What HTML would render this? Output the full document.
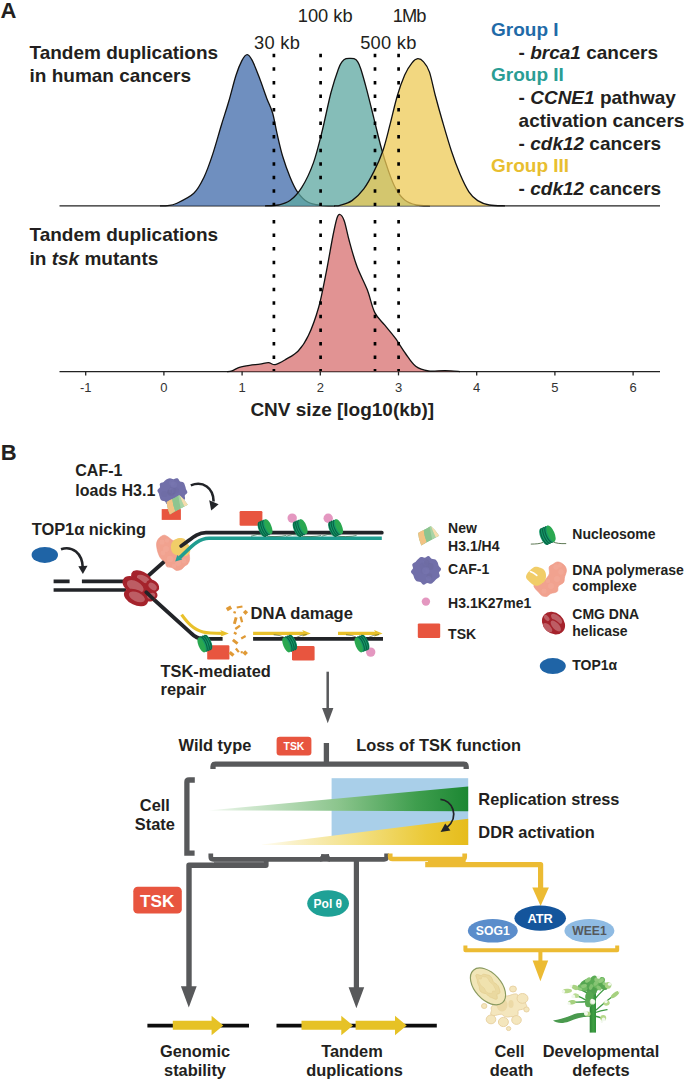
<!DOCTYPE html>
<html><head><meta charset="utf-8"><title>Figure</title>
<style>
html,body{margin:0;padding:0;background:#fff;}
svg{display:block;}
text{font-family:"Liberation Sans",sans-serif;fill:#231f20;}
.b{font-weight:bold;}
.i{font-style:italic;}
</style></head><body>
<svg width="685" height="1080" viewBox="0 0 685 1080">
<rect width="685" height="1080" fill="#fff"/>
<text x="0.5" y="17.6" class="b" font-size="22">A</text>
<g class="b" font-size="19">
<text x="29.5" y="59.4">Tandem duplications</text>
<text x="29.5" y="82.3">in human cancers</text>
<text x="29.5" y="241.2">Tandem duplications</text>
<text x="29.5" y="264.6">in <tspan class="i">tsk</tspan> mutants</text>
<text x="250.4" y="416.3">CNV size [log10(kb)]</text>
<text x="491" y="36" style="fill:#1f6ba8">Group I</text>
<text x="518.6" y="58.6">- <tspan class="i">brca1</tspan> cancers</text>
<text x="491" y="81.3" style="fill:#2a9d94">Group II</text>
<text x="518.6" y="104.3">- <tspan class="i">CCNE1</tspan> pathway</text>
<text x="518.6" y="127">activation cancers</text>
<text x="518.6" y="150">- <tspan class="i">cdk12</tspan> cancers</text>
<text x="491" y="172.3" style="fill:#e8be30">Group III</text>
<text x="518.6" y="195">- <tspan class="i">cdk12</tspan> cancers</text>
</g>
<g font-size="18.3">
<text x="254.1" y="49" textLength="45.7" lengthAdjust="spacing">30 kb</text>
<text x="297.8" y="21.8" textLength="54.8" lengthAdjust="spacing">100 kb</text>
<text x="360.2" y="49" textLength="56.1" lengthAdjust="spacing">500 kb</text>
<text x="392.8" y="21.8" textLength="33.6" lengthAdjust="spacing">1Mb</text>
</g>
<line x1="59.5" y1="205.8" x2="660" y2="205.8" stroke="#222" stroke-width="1.3"/>
<path d="M160.0 205.8C161.2 205.8 164.8 206.0 167.5 205.6C170.2 205.2 171.9 205.6 176.3 203.5C180.7 201.4 189.2 197.7 193.8 193.3C198.4 188.9 200.8 183.8 204.0 177.2C207.2 170.6 209.9 162.7 212.8 153.9C215.7 145.2 218.8 133.5 221.5 124.7C224.2 115.9 226.4 109.6 228.8 101.3C231.2 93.0 233.9 81.8 236.1 75.0C238.3 68.2 240.2 63.8 242.0 60.4C243.8 57.0 245.5 54.6 247.2 54.6C248.9 54.6 250.1 56.5 252.2 60.4C254.2 64.3 257.1 71.7 259.5 78.0C261.9 84.3 264.6 92.6 266.8 98.4C269.0 104.2 270.9 107.2 272.6 113.0C274.3 118.8 275.3 126.1 277.0 133.4C278.7 140.7 280.6 149.5 282.8 156.8C285.0 164.1 287.7 171.4 290.1 177.2C292.5 183.0 294.5 187.7 297.4 191.8C300.3 195.9 303.8 199.8 307.7 202.0C311.6 204.2 316.2 204.7 320.8 205.3C325.4 205.9 332.6 205.7 335.0 205.8Z" fill="#3f6aaa" fill-opacity="0.75" stroke="none"/>
<path d="M160.0 205.8C161.2 205.8 164.8 206.0 167.5 205.6C170.2 205.2 171.9 205.6 176.3 203.5C180.7 201.4 189.2 197.7 193.8 193.3C198.4 188.9 200.8 183.8 204.0 177.2C207.2 170.6 209.9 162.7 212.8 153.9C215.7 145.2 218.8 133.5 221.5 124.7C224.2 115.9 226.4 109.6 228.8 101.3C231.2 93.0 233.9 81.8 236.1 75.0C238.3 68.2 240.2 63.8 242.0 60.4C243.8 57.0 245.5 54.6 247.2 54.6C248.9 54.6 250.1 56.5 252.2 60.4C254.2 64.3 257.1 71.7 259.5 78.0C261.9 84.3 264.6 92.6 266.8 98.4C269.0 104.2 270.9 107.2 272.6 113.0C274.3 118.8 275.3 126.1 277.0 133.4C278.7 140.7 280.6 149.5 282.8 156.8C285.0 164.1 287.7 171.4 290.1 177.2C292.5 183.0 294.5 187.7 297.4 191.8C300.3 195.9 303.8 199.8 307.7 202.0C311.6 204.2 316.2 204.7 320.8 205.3C325.4 205.9 332.6 205.7 335.0 205.8" fill="none" stroke="#111" stroke-width="1.3" stroke-linejoin="round"/>
<path d="M265.0 205.8C267.2 205.7 274.3 205.9 278.5 205.0C282.7 204.1 286.1 203.5 290.0 200.6C293.9 197.7 297.9 193.7 301.8 187.4C305.7 181.1 310.1 172.1 313.5 162.6C316.9 153.1 319.4 142.2 322.3 130.5C325.2 118.8 328.3 102.7 331.0 92.5C333.7 82.3 336.4 74.4 338.3 69.2C340.2 64.0 340.9 63.4 342.2 61.6C343.5 59.9 344.7 59.2 346.0 58.7C347.3 58.2 348.7 58.3 350.0 58.3C351.3 58.3 352.7 58.2 354.0 58.7C355.3 59.2 356.5 59.9 357.6 61.6C358.8 63.4 359.4 64.5 360.9 69.2C362.4 73.9 364.5 81.3 366.7 89.6C368.9 97.9 371.6 109.1 374.0 118.8C376.4 128.5 378.9 139.2 381.3 148.0C383.7 156.8 386.2 164.6 388.6 171.4C391.0 178.2 393.2 184.1 395.9 188.9C398.6 193.7 401.3 197.3 404.7 200.0C408.1 202.7 412.2 204.0 416.4 205.0C420.6 206.0 427.7 205.7 430.0 205.8Z" fill="#5ca7a0" fill-opacity="0.75" stroke="none"/>
<path d="M265.0 205.8C267.2 205.7 274.3 205.9 278.5 205.0C282.7 204.1 286.1 203.5 290.0 200.6C293.9 197.7 297.9 193.7 301.8 187.4C305.7 181.1 310.1 172.1 313.5 162.6C316.9 153.1 319.4 142.2 322.3 130.5C325.2 118.8 328.3 102.7 331.0 92.5C333.7 82.3 336.4 74.4 338.3 69.2C340.2 64.0 340.9 63.4 342.2 61.6C343.5 59.9 344.7 59.2 346.0 58.7C347.3 58.2 348.7 58.3 350.0 58.3C351.3 58.3 352.7 58.2 354.0 58.7C355.3 59.2 356.5 59.9 357.6 61.6C358.8 63.4 359.4 64.5 360.9 69.2C362.4 73.9 364.5 81.3 366.7 89.6C368.9 97.9 371.6 109.1 374.0 118.8C376.4 128.5 378.9 139.2 381.3 148.0C383.7 156.8 386.2 164.6 388.6 171.4C391.0 178.2 393.2 184.1 395.9 188.9C398.6 193.7 401.3 197.3 404.7 200.0C408.1 202.7 412.2 204.0 416.4 205.0C420.6 206.0 427.7 205.7 430.0 205.8" fill="none" stroke="#111" stroke-width="1.3" stroke-linejoin="round"/>
<path d="M334.0 205.8C335.0 205.7 337.0 206.2 340.0 205.3C343.0 204.4 348.0 203.3 352.0 200.6C356.0 197.9 360.1 193.8 363.8 188.9C367.5 184.0 370.8 177.7 374.0 171.4C377.2 165.1 380.1 158.8 382.8 151.0C385.5 143.2 387.6 133.9 390.0 124.7C392.4 115.5 394.9 103.8 397.4 95.5C399.8 87.2 402.3 80.5 404.7 75.0C407.1 69.5 409.8 65.5 412.0 62.8C414.2 60.1 415.9 58.9 417.8 58.7C419.7 58.6 421.7 59.7 423.6 61.9C425.6 64.1 427.6 66.5 429.5 72.1C431.4 77.7 433.1 87.2 435.3 95.5C437.5 103.8 439.9 112.5 442.6 121.8C445.3 131.1 448.5 142.2 451.4 151.0C454.3 159.8 457.2 167.5 460.1 174.3C463.0 181.1 466.0 187.4 468.9 191.8C471.8 196.2 474.3 198.4 477.7 200.6C481.1 202.8 484.8 204.1 489.3 205.0C493.9 205.9 502.4 205.7 505.0 205.8Z" fill="#eec955" fill-opacity="0.75" stroke="none"/>
<path d="M334.0 205.8C335.0 205.7 337.0 206.2 340.0 205.3C343.0 204.4 348.0 203.3 352.0 200.6C356.0 197.9 360.1 193.8 363.8 188.9C367.5 184.0 370.8 177.7 374.0 171.4C377.2 165.1 380.1 158.8 382.8 151.0C385.5 143.2 387.6 133.9 390.0 124.7C392.4 115.5 394.9 103.8 397.4 95.5C399.8 87.2 402.3 80.5 404.7 75.0C407.1 69.5 409.8 65.5 412.0 62.8C414.2 60.1 415.9 58.9 417.8 58.7C419.7 58.6 421.7 59.7 423.6 61.9C425.6 64.1 427.6 66.5 429.5 72.1C431.4 77.7 433.1 87.2 435.3 95.5C437.5 103.8 439.9 112.5 442.6 121.8C445.3 131.1 448.5 142.2 451.4 151.0C454.3 159.8 457.2 167.5 460.1 174.3C463.0 181.1 466.0 187.4 468.9 191.8C471.8 196.2 474.3 198.4 477.7 200.6C481.1 202.8 484.8 204.1 489.3 205.0C493.9 205.9 502.4 205.7 505.0 205.8" fill="none" stroke="#111" stroke-width="1.3" stroke-linejoin="round"/>
<line x1="59.5" y1="371.6" x2="660" y2="371.6" stroke="#222" stroke-width="1.3"/>
<path d="M227.0 371.6C227.8 371.5 229.9 371.5 232.0 370.8C234.1 370.1 236.5 368.2 239.4 367.3C242.3 366.4 246.2 365.8 249.6 365.3C253.0 364.8 256.8 364.6 259.9 364.2C263.0 363.8 265.9 362.6 268.5 362.7C271.1 362.8 272.4 365.1 275.2 364.6C278.0 364.1 281.6 361.9 285.4 359.6C289.2 357.3 294.4 355.0 298.2 351.0C302.0 347.0 305.0 342.9 308.4 335.6C311.8 328.4 315.6 318.1 318.6 307.5C321.6 296.9 323.9 283.7 326.3 271.8C328.7 259.9 331.1 245.0 332.9 236.0C334.7 227.0 335.8 221.6 337.0 218.0C338.2 214.4 338.8 214.1 340.0 214.5C341.2 214.9 342.6 216.3 344.2 220.7C345.8 225.1 347.2 233.3 349.3 241.0C351.4 248.7 354.0 258.5 357.0 266.6C360.0 274.7 364.2 281.9 367.2 289.6C370.2 297.3 371.8 306.6 374.8 312.6C377.8 318.6 381.6 321.1 385.0 325.4C388.4 329.7 391.9 333.5 395.3 338.2C398.7 342.9 402.1 348.8 405.5 353.5C408.9 358.2 411.9 363.4 415.7 366.3C419.5 369.2 423.6 370.3 428.5 371.0C433.4 371.7 439.8 370.5 445.0 370.6C450.2 370.7 457.5 371.4 460.0 371.6Z" fill="#d66a6a" fill-opacity="0.72" stroke="none"/>
<path d="M227.0 371.6C227.8 371.5 229.9 371.5 232.0 370.8C234.1 370.1 236.5 368.2 239.4 367.3C242.3 366.4 246.2 365.8 249.6 365.3C253.0 364.8 256.8 364.6 259.9 364.2C263.0 363.8 265.9 362.6 268.5 362.7C271.1 362.8 272.4 365.1 275.2 364.6C278.0 364.1 281.6 361.9 285.4 359.6C289.2 357.3 294.4 355.0 298.2 351.0C302.0 347.0 305.0 342.9 308.4 335.6C311.8 328.4 315.6 318.1 318.6 307.5C321.6 296.9 323.9 283.7 326.3 271.8C328.7 259.9 331.1 245.0 332.9 236.0C334.7 227.0 335.8 221.6 337.0 218.0C338.2 214.4 338.8 214.1 340.0 214.5C341.2 214.9 342.6 216.3 344.2 220.7C345.8 225.1 347.2 233.3 349.3 241.0C351.4 248.7 354.0 258.5 357.0 266.6C360.0 274.7 364.2 281.9 367.2 289.6C370.2 297.3 371.8 306.6 374.8 312.6C377.8 318.6 381.6 321.1 385.0 325.4C388.4 329.7 391.9 333.5 395.3 338.2C398.7 342.9 402.1 348.8 405.5 353.5C408.9 358.2 411.9 363.4 415.7 366.3C419.5 369.2 423.6 370.3 428.5 371.0C433.4 371.7 439.8 370.5 445.0 370.6C450.2 370.7 457.5 371.4 460.0 371.6" fill="none" stroke="#111" stroke-width="1.3" stroke-linejoin="round"/>
<line x1="273.9" y1="53.8" x2="273.9" y2="206" stroke="#000" stroke-width="2.7" stroke-dasharray="3.5 10.05"/>
<line x1="273.9" y1="220" x2="273.9" y2="371" stroke="#000" stroke-width="2.7" stroke-dasharray="3.5 10.05"/>
<line x1="320.6" y1="53.8" x2="320.6" y2="206" stroke="#000" stroke-width="2.7" stroke-dasharray="3.5 10.05"/>
<line x1="320.6" y1="220" x2="320.6" y2="371" stroke="#000" stroke-width="2.7" stroke-dasharray="3.5 10.05"/>
<line x1="375.0" y1="53.8" x2="375.0" y2="206" stroke="#000" stroke-width="2.7" stroke-dasharray="3.5 10.05"/>
<line x1="375.0" y1="220" x2="375.0" y2="371" stroke="#000" stroke-width="2.7" stroke-dasharray="3.5 10.05"/>
<line x1="398.6" y1="53.8" x2="398.6" y2="206" stroke="#000" stroke-width="2.7" stroke-dasharray="3.5 10.05"/>
<line x1="398.6" y1="220" x2="398.6" y2="371" stroke="#000" stroke-width="2.7" stroke-dasharray="3.5 10.05"/>
<g font-size="13" text-anchor="middle" fill="#333">
<line x1="85.7" y1="371.6" x2="85.7" y2="375.4" stroke="#222" stroke-width="1.3"/>
<text x="85.7" y="392.2" style="fill:#333">-1</text>
<line x1="163.9" y1="371.6" x2="163.9" y2="375.4" stroke="#222" stroke-width="1.3"/>
<text x="163.9" y="392.2" style="fill:#333">0</text>
<line x1="242.1" y1="371.6" x2="242.1" y2="375.4" stroke="#222" stroke-width="1.3"/>
<text x="242.1" y="392.2" style="fill:#333">1</text>
<line x1="320.3" y1="371.6" x2="320.3" y2="375.4" stroke="#222" stroke-width="1.3"/>
<text x="320.3" y="392.2" style="fill:#333">2</text>
<line x1="398.5" y1="371.6" x2="398.5" y2="375.4" stroke="#222" stroke-width="1.3"/>
<text x="398.5" y="392.2" style="fill:#333">3</text>
<line x1="476.7" y1="371.6" x2="476.7" y2="375.4" stroke="#222" stroke-width="1.3"/>
<text x="476.7" y="392.2" style="fill:#333">4</text>
<line x1="554.9" y1="371.6" x2="554.9" y2="375.4" stroke="#222" stroke-width="1.3"/>
<text x="554.9" y="392.2" style="fill:#333">5</text>
<line x1="633.1" y1="371.6" x2="633.1" y2="375.4" stroke="#222" stroke-width="1.3"/>
<text x="633.1" y="392.2" style="fill:#333">6</text>
</g>
<defs>
<g id="nuc"><g transform="rotate(-23)">
<path d="M-3.7 -7.9 H3.7 V7.9 H-3.7 A2.9 7.9 0 0 1 -3.7 -7.9Z" fill="#169a68"/>
<path d="M-2.4 -7.9 A2.9 7.9 0 0 0 -2.4 7.9 M-0.3 -7.9 A2.9 7.9 0 0 0 -0.3 7.9 M1.8 -7.9 A2.9 7.9 0 0 0 1.8 7.9" fill="none" stroke="#086245" stroke-width="1.05"/>
<ellipse cx="3.7" cy="0" rx="3.0" ry="7.9" fill="#2aa850"/>
</g></g>
<g id="nuc2"><use href="#nuc" transform="rotate(180)"/></g>
<g id="heli">
<ellipse cx="4" cy="0" rx="12" ry="11" fill="#a5232c"/>
<ellipse cx="1.0" cy="-10.1" rx="10.8" ry="6.4" transform="rotate(25 1.0 -10.1)" fill="#a5232c"/>
<ellipse cx="3.2" cy="-8.8" rx="7.0" ry="3.4" transform="rotate(25 3.2 -8.8)" fill="#bd5d64"/>
<ellipse cx="12.4" cy="-1.9" rx="7.2" ry="5.5" transform="rotate(40 12.4 -1.9)" fill="#a5232c"/>
<ellipse cx="12.4" cy="-1.4" rx="4.7" ry="3.0" transform="rotate(40 12.4 -1.4)" fill="#bd5d64"/>
<ellipse cx="10.6" cy="8.3" rx="6.9" ry="5.1" transform="rotate(-20 10.6 8.3)" fill="#a5232c"/>
<ellipse cx="11.0" cy="7.9" rx="4.2" ry="2.6" transform="rotate(-20 11.0 7.9)" fill="#bd5d64"/>
<ellipse cx="-5.6" cy="-2.2" rx="13.2" ry="8.3" transform="rotate(30 -6.0 -1.9)" fill="#a5232c"/>
<ellipse cx="-5.0" cy="-1.6" rx="9.2" ry="5.1" transform="rotate(30 -5.2 -1.4)" fill="#bd5d64"/>
<ellipse cx="-4.0" cy="9.6" rx="12.8" ry="7.6" transform="rotate(25 -4.3 9.1)" fill="#a5232c"/>
<ellipse cx="-3.2" cy="9.0" rx="8.6" ry="4.5" transform="rotate(25 -3.4 8.6)" fill="#bd5d64"/>
</g>
<g id="heli2">
<ellipse cx="-1" cy="-0.5" rx="12.6" ry="10.2" transform="rotate(42 -1 -0.5)" fill="#a5232c"/>
<ellipse cx="2.1" cy="-4.8" rx="6.8" ry="3.3" transform="rotate(40 2.1 -4.8)" fill="#bd5d64"/>
<ellipse cx="-7.8" cy="-5.6" rx="3.5" ry="2.1" transform="rotate(50 -7.8 -5.6)" fill="#bd5d64"/>
<ellipse cx="-6.8" cy="4.0" rx="5.8" ry="3.0" transform="rotate(45 -6.8 4.0)" fill="#bd5d64"/>
<ellipse cx="1.3" cy="2.6" rx="8.6" ry="4.6" transform="rotate(48 1.3 2.6)" fill="#a5232c"/>
<ellipse cx="1.3" cy="2.4" rx="6.8" ry="3.2" transform="rotate(48 1.3 2.4)" fill="#bd5d64"/>
</g>
<g id="wedge">
<path d="M0 0 Q6 -3 12.9 -6.7 Q17.6 -3 21.1 2.9 Q12 7.6 3.2 12.6 Q0.4 6.4 0 0Z" fill="#8dc590"/>
<path d="M0 0 Q2.6 -1.8 5.6 -2.8 Q6.2 3.4 8.6 9.2 Q6 11.2 3.2 12.6 Q0.4 6.4 0 0Z" fill="#f2c384"/>
<path d="M5.6 -2.8 Q8.8 -4.4 11.6 -6.5 Q12.6 0.2 14 6.4 Q11.4 8 8.6 9.2 Q6.2 3.4 5.6 -2.8Z" fill="#8dc590"/>
<path d="M11.6 -6.5 L12.9 -6.7 Q15 -0.8 17.6 4.5 L14 6.4 Q12.6 0.2 11.6 -6.5Z" fill="#a9d4a6"/>
<path d="M12.9 -6.7 Q17.6 -3 21.1 2.9 L17.6 4.5 Q15 -0.8 12.9 -6.7Z" fill="#f6ddae"/>
</g>
</defs>
<text x="0.8" y="460" class="b" font-size="22">B</text>
<g class="b" font-size="16">
<text x="75.3" y="475.8">CAF-1</text>
<text x="75.3" y="495.7">loads H3.1</text>
<text x="31.7" y="535.2" textLength="114.4" lengthAdjust="spacingAndGlyphs">TOP1α nicking</text>
<text x="250.5" y="619.1" textLength="102.4" lengthAdjust="spacingAndGlyphs">DNA damage</text>
<text x="160.6" y="676.5" textLength="110.2" lengthAdjust="spacingAndGlyphs">TSK-mediated</text>
<text x="160.6" y="695.3" font-size="16.4">repair</text>
</g>
<ellipse cx="44.8" cy="554.9" rx="13.2" ry="8" fill="#1f64a6"/>
<path d="M61 549.2 C72 545.5 82.5 553 82.8 568" fill="none" stroke="#222428" stroke-width="2.6"/>
<path d="M78.3 566.3 L87.5 565.8 L82.9 574Z" fill="#222428"/>
<path d="M53.6 581.4 H69.6 M81.9 581.4 H126 M53.6 590 H126" fill="none" stroke="#222428" stroke-width="3.7"/>
<path d="M148 576 L166 560" fill="none" stroke="#222428" stroke-width="3.7"/>
<path d="M150 596 L191 633.2 Q196.5 638.8 203 638.8 H222.6 M253.1 638.8 H383" fill="none" stroke="#222428" stroke-width="3.8"/>
<path d="M156.6 543.2C156.8 541.6 157.4 540.4 158.2 539.2C159.0 538.0 160.4 536.9 161.5 536.2C162.6 535.5 163.5 535.1 164.6 535.2C165.7 535.3 167.0 536.2 168.2 537.0C169.4 537.8 170.6 539.2 171.9 540.0C173.2 540.8 174.3 541.0 176.0 541.5C177.7 542.0 180.0 541.6 182.0 543.0C184.0 544.4 186.7 547.4 188.0 550.0C189.3 552.6 189.6 556.3 189.6 558.6C189.6 560.9 188.8 562.5 188.0 563.7C187.2 564.9 185.9 565.1 184.8 566.0C183.7 566.9 182.9 568.6 181.5 569.3C180.1 570.0 177.9 570.7 176.3 570.4C174.7 570.1 173.5 568.2 171.9 567.6C170.3 567.0 168.0 567.5 166.8 566.6C165.7 565.7 166.0 563.3 165.0 562.0C164.0 560.7 162.0 559.9 160.9 558.6C159.8 557.3 159.2 555.8 158.6 554.2C158.0 552.6 157.4 550.9 157.1 549.1C156.8 547.3 156.4 544.9 156.6 543.2Z" fill="#f1a28f" stroke="#ee9380" stroke-width="0.6"/>
<circle cx="162.0" cy="542.0" r="2.6" fill="#f4ae9d" opacity="0.45"/>
<circle cx="166.0" cy="549.0" r="3.0" fill="#f4ae9d" opacity="0.45"/>
<circle cx="170.0" cy="559.0" r="3.2" fill="#f4ae9d" opacity="0.45"/>
<circle cx="178.0" cy="563.0" r="3.0" fill="#f4ae9d" opacity="0.45"/>
<circle cx="163.0" cy="553.0" r="2.4" fill="#f4ae9d" opacity="0.45"/>
<circle cx="174.0" cy="566.0" r="2.2" fill="#f4ae9d" opacity="0.45"/>
<circle cx="184.0" cy="561.0" r="2.4" fill="#f4ae9d" opacity="0.45"/>
<circle cx="167.0" cy="540.5" r="2.2" fill="#f4ae9d" opacity="0.45"/>
<path d="M171.2 544.6C171.6 543.2 172.3 541.6 173.6 540.5C174.9 539.4 177.4 538.4 179.2 538.1C181.0 537.8 183.1 538.1 184.3 538.8C185.5 539.5 185.7 541.3 186.6 542.5C187.5 543.7 188.9 544.7 189.5 546.2C190.1 547.8 190.6 550.2 190.1 551.8C189.6 553.4 188.1 555.2 186.5 555.8C184.9 556.4 182.3 555.3 180.7 555.2C179.0 555.1 177.9 555.4 176.6 555.0C175.2 554.6 173.5 553.8 172.6 552.7C171.7 551.6 171.2 550.0 171.0 548.6C170.8 547.2 170.8 546.0 171.2 544.6Z" fill="#f1cd68"/>
<path d="M381.8 532.7 H206 C196 532.7 190 540.5 181.2 546" fill="none" stroke="#222428" stroke-width="3.8" stroke-linecap="round"/>
<path d="M381.8 538.3 H209 C198 538.3 191 547 179.8 557.6" fill="none" stroke="#1f9d90" stroke-width="3.6"/>
<path d="M175.2 561.6 L177.3 555.0 L182.2 559.6Z" fill="#24a095"/>
<rect x="161.7" y="509.1" width="19.2" height="10.8" fill="#e8553f"/>
<path d="M187.2 491.4L187.4 492.6L186.6 493.7L185.5 494.6L184.8 495.5L184.8 496.7L185.1 498.1L184.8 499.4L183.7 500.1L182.3 500.4L181.1 500.9L180.3 501.7L179.4 502.6L178.5 503.3L177.4 503.9L176.2 504.3L174.9 504.5L173.6 504.3L172.4 503.8L171.2 503.6L170.0 504.0L168.6 504.5L167.2 504.5L166.2 503.6L165.6 502.2L164.8 501.3L163.6 501.0L162.2 500.7L161.0 500.1L160.4 499.1L160.0 497.9L159.7 496.8L159.3 495.8L159.1 494.7L158.8 493.6L158.2 492.5L157.6 491.4L157.4 490.2L158.2 489.1L159.3 488.2L160.0 487.3L160.0 486.1L159.7 484.7L160.0 483.4L161.1 482.7L162.5 482.4L163.7 481.9L164.5 481.1L165.4 480.2L166.3 479.5L167.4 478.9L168.6 478.5L169.9 478.3L171.2 478.5L172.4 479.0L173.6 479.2L174.8 478.8L176.2 478.3L177.6 478.3L178.6 479.2L179.2 480.6L180.0 481.5L181.2 481.8L182.6 482.1L183.8 482.7L184.4 483.7L184.8 484.9L185.1 486.0L185.5 487.0L185.7 488.1L186.0 489.2L186.6 490.3Z" fill="#716fa9"/>
<circle cx="171.2" cy="492.5" r="3.6" fill="#6b699f" opacity="0.55"/><circle cx="171.9" cy="482.7" r="2.9" fill="#7977b1" opacity="0.55"/><circle cx="164.4" cy="494.0" r="3.1" fill="#6d6ba4" opacity="0.55"/><circle cx="172.3" cy="490.6" r="3.6" fill="#6b699f" opacity="0.55"/><circle cx="171.6" cy="490.6" r="2.9" fill="#7977b1" opacity="0.55"/><circle cx="173.6" cy="490.7" r="2.6" fill="#6d6ba4" opacity="0.55"/><circle cx="169.5" cy="492.1" r="2.4" fill="#6b699f" opacity="0.55"/><circle cx="173.8" cy="484.8" r="3.2" fill="#7977b1" opacity="0.55"/><circle cx="176.2" cy="490.5" r="2.9" fill="#6d6ba4" opacity="0.55"/>
<use href="#wedge" x="166.7" y="501.9"/>
<path d="M190.8 485.4 C203 480.5 213.5 488 213.6 501.5" fill="none" stroke="#222428" stroke-width="2.6"/>
<path d="M209.2 500.2 L218.6 504.2 L211.2 510.6Z" fill="#222428"/>
<use href="#heli" transform="translate(140.2,587.8)"/>
<path d="M146.2 592.2 L153 598.6" fill="none" stroke="#222428" stroke-width="3.7" stroke-linecap="round"/>
<rect x="239.6" y="511" width="22.8" height="14.8" rx="1.2" fill="#e8553f"/>
<path d="M251.0 536.2 q7 -2.6 11 -1.2 q5 1.8 13 1.6 q8 -0.2 11 -1.2" fill="none" stroke="#14502e" stroke-width="0.6"/>
<path d="M286.1 536.2 q7 -2.6 11 -1.2 q5 1.8 13 1.6 q8 -0.2 11 -1.2" fill="none" stroke="#14502e" stroke-width="0.6"/>
<path d="M321.6 536.2 q7 -2.6 11 -1.2 q5 1.8 13 1.6 q8 -0.2 11 -1.2" fill="none" stroke="#14502e" stroke-width="0.6"/>
<circle cx="292.2" cy="518.1" r="4.7" fill="#e497c0"/>
<circle cx="328.2" cy="518.3" r="4.7" fill="#e497c0"/>
<use href="#nuc" x="265.0" y="528"/>
<use href="#nuc" x="300.1" y="528"/>
<use href="#nuc" x="335.6" y="528"/>
<path d="M181.6 614.6 C187 622 193 629.5 203 632 C208 633.4 214 633.4 223 633.4" fill="none" stroke="#e9c12b" stroke-width="3.2"/>
<path d="M220.2 630.1 L228.8 633.4 L220.2 636.7 L222.4 633.4Z" fill="#e9c12b"/>
<path d="M253.1 633.4 H305" fill="none" stroke="#e9c12b" stroke-width="3.2"/>
<path d="M302.2 630.1 L310.8 633.4 L302.2 636.7 L304.4 633.4Z" fill="#e9c12b"/>
<path d="M338 633.4 H377" fill="none" stroke="#e9c12b" stroke-width="3.2"/>
<path d="M374.0 630.1 L382.6 633.4 L374.0 636.7 L376.2 633.4Z" fill="#e9c12b"/>
<path d="M273.7 634.8 q6 0.2 10 2.2 M306.7 634.6 q-6 0.4 -10 2.6" fill="none" stroke="#3a4a20" stroke-width="0.6"/>
<path d="M346.0 634.8 q6 0.2 10 2.2 M379.0 634.6 q-6 0.4 -10 2.6" fill="none" stroke="#3a4a20" stroke-width="0.6"/>
<rect x="207.2" y="645.2" width="22.2" height="14.4" rx="1.2" fill="#e8553f"/>
<rect x="292" y="646" width="22.6" height="14.6" rx="1.4" fill="#e8553f"/>
<circle cx="370.7" cy="652.1" r="4.7" fill="#e497c0"/>
<use href="#nuc2" x="204.9" y="643.6"/>
<use href="#nuc2" x="289.7" y="643.6"/>
<use href="#nuc2" x="362.0" y="643.6"/>
<rect x="226.4" y="606.6" width="5.1" height="3.7" fill="#e09a36" transform="rotate(-30 228.9 608.4)"/>
<rect x="236.7" y="605.9" width="5.8" height="2.2" fill="#e09a36" transform="rotate(-10 239.6 607.0)"/>
<rect x="243.7" y="610.4" width="3.7" height="3.7" fill="#e09a36" transform="rotate(45 245.5 612.2)"/>
<rect x="233.4" y="611.4" width="2.5" height="2.1" fill="#e09a36" transform="rotate(20 234.7 612.4)"/>
<rect x="233.8" y="617.2" width="2.9" height="6.9" fill="#e09a36" transform="rotate(15 235.2 620.7)"/>
<rect x="240.2" y="616.5" width="2.3" height="5.8" fill="#e09a36" transform="rotate(-15 241.3 619.4)"/>
<rect x="234.8" y="626.1" width="5.8" height="2.4" fill="#e09a36" transform="rotate(-35 237.7 627.3)"/>
<rect x="233.7" y="632.1" width="3.0" height="2.3" fill="#e09a36" transform="rotate(30 235.2 633.3)"/>
<rect x="240.9" y="636.1" width="5.1" height="2.3" fill="#e09a36" transform="rotate(-30 243.4 637.3)"/>
<rect x="232.2" y="640.3" width="6.1" height="2.9" fill="#e09a36" transform="rotate(40 235.2 641.7)"/>
<rect x="235.0" y="649.2" width="4.6" height="2.3" fill="#e09a36" transform="rotate(50 237.3 650.4)"/>
<rect x="229.0" y="652.2" width="5.1" height="3.4" fill="#e09a36" transform="rotate(40 231.5 653.9)"/>
<rect x="243.2" y="651.0" width="3.9" height="3.9" fill="#e09a36" transform="rotate(45 245.2 653.0)"/>
<rect x="240.7" y="651.2" width="2.1" height="2.1" fill="#e09a36" transform="rotate(0 241.7 652.2)"/>
<g class="b" font-size="14">
<text x="448.1" y="533.4">New</text>
<text x="448.1" y="551.2">H3.1/H4</text>
<text x="448.1" y="574">CAF-1</text>
<text x="448.1" y="607.8">H3.1K27me1</text>
<text x="448.1" y="639">TSK</text>
<text x="572.3" y="538.8">Nucleosome</text>
<text x="572.3" y="574.8">DNA polymerase</text>
<text x="572.3" y="591.4">complexe</text>
<text x="572.3" y="618.5">CMG DNA</text>
<text x="572.3" y="635.8">helicase</text>
<text x="572.3" y="669.7">TOP1α</text>
</g>
<use href="#wedge" x="418.1" y="532.9"/>
<path d="M440.6 570.4L439.6 571.5L438.9 572.6L439.2 573.8L439.7 575.2L439.7 576.5L438.8 577.5L437.6 578.2L436.5 578.9L435.7 579.7L435.0 580.6L434.1 581.5L433.2 582.3L432.2 583.2L431.1 583.7L429.7 583.7L428.4 583.2L427.2 583.0L426.0 583.6L424.7 584.5L423.3 584.8L422.2 584.1L421.3 582.8L420.4 582.0L419.2 581.7L417.8 581.6L416.6 581.2L415.6 580.3L414.9 579.3L414.3 578.2L413.9 577.1L413.6 575.9L413.2 574.9L412.4 573.9L411.4 572.9L410.9 571.7L411.4 570.4L412.4 569.3L413.1 568.2L412.8 567.0L412.3 565.6L412.3 564.3L413.2 563.3L414.4 562.6L415.5 561.9L416.3 561.1L417.0 560.2L417.9 559.3L418.8 558.5L419.8 557.6L420.9 557.1L422.3 557.1L423.6 557.6L424.8 557.8L426.0 557.2L427.3 556.3L428.7 556.0L429.8 556.7L430.7 558.0L431.6 558.8L432.8 559.1L434.2 559.2L435.4 559.6L436.4 560.5L437.1 561.5L437.7 562.6L438.1 563.7L438.4 564.9L438.8 565.9L439.6 566.9L440.6 567.9L441.1 569.1Z" fill="#716fa9"/>
<circle cx="429.4" cy="576.0" r="2.8" fill="#6b699f" opacity="0.55"/><circle cx="428.6" cy="578.6" r="2.7" fill="#7977b1" opacity="0.55"/><circle cx="423.3" cy="566.1" r="3.5" fill="#6d6ba4" opacity="0.55"/><circle cx="430.0" cy="566.6" r="3.5" fill="#6b699f" opacity="0.55"/><circle cx="425.9" cy="562.9" r="2.7" fill="#7977b1" opacity="0.55"/><circle cx="422.9" cy="571.1" r="2.3" fill="#6d6ba4" opacity="0.55"/><circle cx="426.7" cy="562.4" r="2.7" fill="#6b699f" opacity="0.55"/><circle cx="425.8" cy="570.6" r="3.7" fill="#7977b1" opacity="0.55"/><circle cx="425.8" cy="564.6" r="3.0" fill="#6d6ba4" opacity="0.55"/>
<circle cx="425.9" cy="601.6" r="4.2" fill="#e497c0"/>
<rect x="417.8" y="623.4" width="22.4" height="14.6" rx="1.2" fill="#e8553f"/>
<path d="M530.8 544.1 C536 544 540 543.8 543 542.4 M566.2 543.6 C560 543.8 556 543.4 552.6 541.6" fill="none" stroke="#35572a" stroke-width="0.8"/>
<use href="#nuc" transform="translate(547.4,535.2) scale(1.1)"/>
<path d="M549.2 567.1C549.7 565.6 551.1 565.5 552.4 564.6C553.7 563.8 555.5 562.2 557.0 562.0C558.5 561.8 560.3 562.4 561.7 563.2C563.1 564.0 564.6 565.4 565.4 566.7C566.2 568.1 566.5 569.6 566.4 571.3C566.3 573.0 565.1 575.0 564.6 576.9C564.1 578.8 564.6 580.9 563.6 582.4C562.6 583.9 559.5 584.6 558.4 586.1C557.3 587.6 558.5 590.2 557.2 591.5C555.9 592.8 552.5 592.8 550.8 593.6C549.1 594.4 548.3 596.0 546.9 596.4C545.5 596.8 543.6 596.5 542.2 595.8C540.8 595.1 539.7 593.4 538.5 592.1C537.3 590.8 535.5 589.2 534.8 588.0C534.1 586.8 533.3 585.7 534.4 585.0C535.5 584.3 539.2 584.8 541.3 583.6C543.4 582.4 545.5 579.5 546.9 577.8C548.2 576.1 549.0 575.3 549.4 573.5C549.8 571.7 548.7 568.6 549.2 567.1Z" fill="#f1a28f" stroke="#ee9380" stroke-width="0.6"/>
<circle cx="556.0" cy="567.0" r="2.8" fill="#f4ae9d" opacity="0.45"/>
<circle cx="561.0" cy="572.0" r="2.8" fill="#f4ae9d" opacity="0.45"/>
<circle cx="557.0" cy="579.0" r="3.0" fill="#f4ae9d" opacity="0.45"/>
<circle cx="551.0" cy="586.0" r="3.0" fill="#f4ae9d" opacity="0.45"/>
<circle cx="544.0" cy="591.0" r="2.6" fill="#f4ae9d" opacity="0.45"/>
<circle cx="560.0" cy="565.5" r="2.0" fill="#f4ae9d" opacity="0.45"/>
<circle cx="548.0" cy="581.0" r="2.2" fill="#f4ae9d" opacity="0.45"/>
<path d="M526.0 576.9C525.9 575.6 526.9 574.0 527.7 572.7C528.6 571.4 529.8 570.2 531.1 569.2C532.4 568.2 533.8 566.9 535.3 566.7C536.8 566.5 538.9 567.2 540.4 567.8C541.9 568.4 543.6 569.2 544.5 570.4C545.4 571.6 545.9 573.3 546.0 575.0C546.1 576.7 545.9 579.1 545.1 580.6C544.3 582.1 542.7 583.0 541.3 583.9C539.9 584.8 538.2 585.7 536.7 585.7C535.2 585.7 533.4 584.8 532.0 583.9C530.6 583.0 529.2 581.8 528.2 580.6C527.2 579.4 526.1 578.2 526.0 576.9Z" fill="#f1cd68"/>
<path d="M530.4 571.6 Q533.6 572.6 536.8 575.4" fill="none" stroke="#fff" stroke-width="1.6" stroke-linecap="round"/>
<use href="#heli2" x="554.5" y="623.6"/>
<ellipse cx="552.8" cy="666.1" rx="13" ry="8" fill="#1f64a6"/>
<defs>
<linearGradient id="gg" x1="0" x2="1" y1="0" y2="0"><stop offset="0" stop-color="#f6fbf5"/><stop offset="0.12" stop-color="#d6ebd5"/><stop offset="0.5" stop-color="#8cc58d"/><stop offset="0.8" stop-color="#3f9e4e"/><stop offset="1" stop-color="#1c8733"/></linearGradient>
<linearGradient id="gy" x1="0" x2="1" y1="0" y2="0"><stop offset="0" stop-color="#fffdf3"/><stop offset="0.15" stop-color="#faf1c8"/><stop offset="0.45" stop-color="#f3e187"/><stop offset="0.8" stop-color="#ebc936"/><stop offset="1" stop-color="#e6bc1c"/></linearGradient>
</defs>
<path d="M327.7 671.7 V710" stroke="#58595b" stroke-width="2.5" fill="none"/>
<path d="M322.1 707.9 L333.4 707.9 L327.75 723.2Z" fill="#58595b"/>
<g class="b" font-size="16.4">
<text x="178.6" y="750.6">Wild type</text>
<text x="356.2" y="750.6">Loss of TSK function</text>
<text x="478.3" y="805">Replication stress</text>
<text x="478.3" y="838.2">DDR activation</text>
<text x="154.9" y="811.4" text-anchor="middle">Cell</text>
<text x="154.9" y="830.2" text-anchor="middle">State</text>
<text x="195" y="1056.8" text-anchor="middle">Genomic</text>
<text x="195" y="1075.8" text-anchor="middle">stability</text>
<text x="352" y="1056.8" text-anchor="middle">Tandem</text>
<text x="354.5" y="1075.8" text-anchor="middle">duplications</text>
<text x="509.5" y="1056.8" text-anchor="middle">Cell</text>
<text x="511.5" y="1075.8" text-anchor="middle">death</text>
<text x="601" y="1056.8" text-anchor="middle">Developmental</text>
<text x="601" y="1075.8" text-anchor="middle">defects</text>
</g>
<rect x="276.6" y="736.7" width="34.8" height="18.8" rx="3.2" fill="#e8553f"/>
<text x="294" y="749.9" class="b" font-size="10.4" text-anchor="middle" style="fill:#fff">TSK</text>
<path d="M213 769 V766.6 Q213 764.2 215.4 764.2 H463.8 Q466.2 764.2 466.2 766.6 V769 M326.4 743 V764.2" fill="none" stroke="#58595b" stroke-width="5.3"/>
<rect x="331.6" y="778.2" width="136.6" height="66.8" fill="#a9cfe9"/>
<path d="M208 810.4 L468.2 786.6 V811.2Z" fill="url(#gg)"/>
<path d="M262 844.4 L468.2 818.8 V845 H262Z" fill="url(#gy)"/>
<path d="M440.4 799.4 C452 800 460 816 447 827.5" fill="none" stroke="#222428" stroke-width="1.7"/>
<path d="M450.4 830.4 L440.6 832 L445.2 823.4Z" fill="#222428"/>
<path d="M194.8 780 H189 Q186.9 780 186.9 782 V853.1 H194.6" fill="none" stroke="#58595b" stroke-width="5.3"/>
<path d="M210.8 853.6 V857 Q210.8 859.3 213.2 859.3 H320 Q323.4 859.3 323.6 854.2 M326.6 854.2 Q326.8 859.3 330 859.3 H384.2 Q386.6 859.3 386.6 857 V853.4" fill="none" stroke="#58595b" stroke-width="4.7"/>
<path d="M320 859.3 H330" fill="none" stroke="#58595b" stroke-width="4.7"/>
<path d="M265.9 859 V865.3 H189 V988" fill="none" stroke="#58595b" stroke-width="5.4" stroke-linejoin="round"/>
<rect x="214" y="861.2" width="50" height="1.8" fill="#6e6f71"/>
<path d="M356.4 858 V989" fill="none" stroke="#58595b" stroke-width="5.2"/>
<path d="M180.9 986.2 H196.7 L188.8 1007.4Z M348.6 987.2 H364.2 L356.4 1008.2Z" fill="#58595b"/>
<path d="M390.2 853.6 V856.8 Q390.2 859 392.6 859 H462.3 Q464.7 859 464.7 856.8 V853.6" fill="none" stroke="#ecbb33" stroke-width="4.7"/>
<path d="M425.2 864.6 H540.6 V889" fill="none" stroke="#ecbb33" stroke-width="5.2" stroke-linejoin="round"/>
<rect x="428" y="859" width="37.6" height="5" fill="#ecbb33"/>
<path d="M532.3 887.4 H548.9 L540.6 906Z" fill="#ecbb33"/>
<rect x="133.3" y="886.8" width="48.5" height="26.8" rx="4.4" fill="#e8553f"/>
<text x="157.3" y="906.5" class="b" font-size="17.2" text-anchor="middle" style="fill:#fff">TSK</text>
<ellipse cx="328.1" cy="903.5" rx="20.9" ry="13.3" fill="#1fa196"/>
<text x="327.8" y="907.8" class="b" font-size="12" text-anchor="middle" style="fill:#fff">Pol θ</text>
<ellipse cx="492.8" cy="930.8" rx="25" ry="11.8" fill="#5b8dcb"/>
<ellipse cx="589.4" cy="930.8" rx="25" ry="11.8" fill="#8fbbe3"/>
<ellipse cx="540.2" cy="918.2" rx="25.8" ry="12.6" fill="#14559c"/>
<text x="540.2" y="922.8" class="b" font-size="12.8" text-anchor="middle" style="fill:#fff">ATR</text>
<text x="492.8" y="935.2" class="b" font-size="12.2" text-anchor="middle" style="fill:#fff">SOG1</text>
<text x="589.4" y="935.2" class="b" font-size="12.2" text-anchor="middle" style="fill:#55585c">WEE1</text>
<path d="M465.4 945.6 V950.2 H617.2 V945.6 M540.4 950 V962" fill="none" stroke="#ecbb33" stroke-width="4" stroke-linejoin="round"/>
<path d="M532.6 960.6 H548.2 L540.4 981.2Z" fill="#ecbb33"/>
<path d="M147.4 1025.6 H249 M276.5 1025.6 H436.8" stroke="#0d0d0d" stroke-width="3.6" fill="none"/>
<path d="M172.8 1020.7 H211.6 V1015.8 L223.3 1025.5 L211.6 1035.3 V1029.8 H172.8Z M301.5 1020.7 H341.3 V1015.8 L353.0 1025.5 L341.3 1035.3 V1029.8 H301.5Z M355.6 1020.7 H395.0 V1015.8 L406.7 1025.5 L395.0 1035.3 V1029.8 H355.6Z" fill="#e6c226"/>
<g stroke="#e7cf9e" stroke-width="0.9" fill="#f4e6bd">
<path d="M525.8 1003.8L526.2 1004.7L526.7 1005.7L526.8 1006.8L526.2 1007.8L524.7 1008.6L522.5 1009.3L520.3 1009.7L518.8 1010.1L518.0 1010.7L518.0 1011.7L518.1 1013.1L517.9 1014.5L517.0 1015.6L515.6 1016.3L513.8 1016.5L512.1 1016.6L510.4 1016.7L508.8 1016.9L507.2 1017.0L505.7 1016.8L504.3 1016.3L503.2 1015.4L502.3 1014.6L501.3 1014.2L499.9 1014.3L497.8 1014.8L495.4 1015.4L493.1 1015.6L491.4 1015.2L490.7 1014.2L490.8 1012.9L491.2 1011.7L491.5 1010.6L491.4 1009.7L491.2 1008.8L491.1 1008.0L491.4 1007.1L492.0 1006.2L492.6 1005.4L492.7 1004.6L492.1 1003.6L491.2 1002.5L490.4 1001.1L490.5 999.9L491.7 998.9L493.7 998.5L496.1 998.4L498.3 998.5L500.1 998.5L501.3 998.1L502.4 997.5L503.6 996.8L504.9 996.3L506.3 996.0L507.8 995.9L509.2 995.6L510.9 995.0L512.8 994.4L514.7 993.9L516.5 994.0L517.7 994.8L518.2 996.2L518.2 997.7L518.1 999.0L518.4 999.8L519.5 1000.1L521.2 1000.3L523.0 1000.6L524.4 1001.2L525.2 1001.9L525.6 1002.9Z"/>
<ellipse cx="513.0" cy="989.0" rx="3.4" ry="3.0"/>
<ellipse cx="522.5" cy="998.4" rx="5.5" ry="4.9"/>
<ellipse cx="491.0" cy="1019.4" rx="4.8" ry="4.4"/>
<ellipse cx="503.4" cy="1022.0" rx="5.0" ry="4.6"/>
<ellipse cx="516.5" cy="1020.0" rx="4.8" ry="4.4"/>
<ellipse cx="508.6" cy="1028.6" rx="2.2" ry="2.0"/>
<ellipse cx="484.2" cy="1006.0" rx="2.7" ry="2.5"/>
<ellipse cx="526.5" cy="1009.5" rx="2.7" ry="2.5"/>
</g>
<ellipse cx="502" cy="1005" rx="5.5" ry="6.5" fill="#ecd9a6"/>
<ellipse cx="511" cy="1004" rx="2.6" ry="4" fill="#ecd9a6"/>
<ellipse cx="488" cy="986.4" rx="21.8" ry="13.2" transform="rotate(48 488 986.4)" fill="#f1e6b8" stroke="#8a9a60" stroke-width="1.15"/>
<path d="M497.1 996.1L497.3 997.4L497.2 998.6L496.7 999.2L495.8 999.3L494.7 999.0L493.6 998.5L492.5 998.0L491.6 997.7L490.6 997.3L489.6 996.8L488.6 996.1L487.7 995.2L486.8 994.4L486.0 993.8L485.0 993.4L483.8 993.2L482.5 992.8L481.2 992.1L480.2 991.0L479.6 989.7L479.4 988.5L479.3 987.3L479.1 986.3L478.7 985.3L478.2 984.3L477.8 983.3L477.5 982.3L477.4 981.4L477.3 980.6L477.1 979.6L476.7 978.5L476.2 977.2L475.8 975.9L475.9 974.9L476.6 974.4L477.7 974.5L479.0 975.0L480.2 975.4L481.1 975.6L481.7 975.4L482.2 974.9L482.8 974.4L483.5 974.2L484.4 974.3L485.3 974.5L486.3 974.7L487.3 974.9L488.3 975.1L489.5 975.6L490.5 976.3L491.5 977.5L492.2 978.9L492.7 980.3L493.1 981.4L493.8 982.3L494.7 983.0L495.9 983.7L497.1 984.7L498.0 985.7L498.7 986.8L499.1 987.9L499.3 989.0L499.6 990.1L499.9 991.1L500.0 992.1L499.8 993.0L499.3 993.5L498.4 993.8L497.6 994.0L497.0 994.3L496.9 995.0Z" fill="#ead9a0" stroke="#e0c98a" stroke-width="0.6"/>
<path d="M492.6 991.2L492.5 991.6L492.4 992.2L492.3 992.8L492.1 993.2L491.6 993.4L491.0 993.4L490.4 993.3L489.8 993.2L489.2 993.1L488.6 993.1L487.9 992.9L487.1 992.5L486.4 991.8L485.7 990.9L485.2 990.0L484.8 989.1L484.4 988.3L483.9 987.8L483.3 987.3L482.6 986.8L481.8 986.3L481.2 985.6L480.6 984.9L480.2 984.1L479.9 983.4L479.6 982.7L479.2 981.9L478.7 981.1L478.4 980.3L478.3 979.6L478.6 979.1L479.1 978.9L479.9 978.9L480.6 979.0L481.1 979.0L481.4 978.8L481.5 978.4L481.6 977.8L481.7 977.2L481.9 976.8L482.4 976.6L483.0 976.6L483.6 976.7L484.2 976.8L484.8 976.9L485.4 976.9L486.1 977.1L486.9 977.5L487.6 978.2L488.3 979.1L488.8 980.0L489.2 980.9L489.6 981.7L490.1 982.2L490.7 982.7L491.4 983.2L492.2 983.7L492.8 984.4L493.4 985.1L493.8 985.9L494.1 986.6L494.4 987.3L494.8 988.1L495.3 988.9L495.6 989.7L495.7 990.4L495.4 990.9L494.9 991.1L494.1 991.1L493.4 991.0L492.9 991.0Z" fill="#f0e2ae" stroke="#e3cd92" stroke-width="0.5"/>
<defs><linearGradient id="stem" x1="0" x2="1" y1="0" y2="0"><stop offset="0" stop-color="#2b8434"/><stop offset="0.55" stop-color="#3fa043"/><stop offset="1" stop-color="#2f8f3a"/></linearGradient></defs>
<path d="M590.5 1013.6 C584 1012.2 577.5 1012.8 571.5 1015.2 C565 1018 559 1019.6 553 1020.4 C556.5 1023.4 563 1023.6 569 1021.4 C576.5 1018.6 583 1016.4 590.5 1016.8Z" fill="#4a9a4e"/>
<g fill="none" stroke="#3f9a44" stroke-width="1.3" stroke-linecap="round">
<path d="M594 1011.5 C600 1007 607 1000 613.5 996 M594 1013 C599 1011 603 1010 607 1009.6 M592 1004 C586 1000 580 996 575.5 995.5 M592 1001 C586 1002 579 1002 574 1002.2 M592 996 C586 992 580 989 576 988 M594 1000 C599 994 603 990 607 987 M594.5 1016 C598 1016.5 600.5 1017.5 602.5 1018.5 M591.5 1013.5 C589.5 1013.6 588.5 1013.8 587.5 1014"/>
</g>
<rect x="589.7" y="989" width="6.3" height="43.6" fill="url(#stem)"/>
<ellipse cx="592.0" cy="985.5" rx="13.0" ry="6.2" fill="#62b058" transform="rotate(-8 592.0 985.5)"/>
<ellipse cx="586.0" cy="984.0" rx="7.0" ry="4.4" fill="#55a651" transform="rotate(-30 586.0 984.0)"/>
<ellipse cx="598.5" cy="982.5" rx="7.5" ry="4.2" fill="#6ab65d" transform="rotate(-35 598.5 982.5)"/>
<ellipse cx="593.0" cy="980.5" rx="5.5" ry="3.4" fill="#5aab54" transform="rotate(-60 593.0 980.5)"/>
<ellipse cx="603.0" cy="986.5" rx="5.0" ry="3.0" fill="#58a852" transform="rotate(30 603.0 986.5)"/>
<ellipse cx="582.5" cy="987.5" rx="5.0" ry="2.8" fill="#6fb962" transform="rotate(20 582.5 987.5)"/>
<ellipse cx="592.0" cy="991.0" rx="5.0" ry="4.2" fill="#4fa14d" transform="rotate(0 592.0 991.0)"/>
<ellipse cx="589.4" cy="996.5" rx="4.2" ry="5.2" fill="#56a751" transform="rotate(10 589.4 996.5)"/>
<ellipse cx="588.4" cy="1003.0" rx="3.4" ry="4.2" fill="#5aab54" transform="rotate(0 588.4 1003.0)"/>
<ellipse cx="588.0" cy="980.0" rx="3.4" ry="2.0" fill="#8cc878" transform="rotate(-40 588.0 980.0)"/>
<ellipse cx="596.0" cy="983.0" rx="3.2" ry="1.9" fill="#86c473" transform="rotate(-50 596.0 983.0)"/>
<ellipse cx="601.0" cy="980.5" rx="3.2" ry="1.9" fill="#93cc7e" transform="rotate(-30 601.0 980.5)"/>
<ellipse cx="584.0" cy="986.0" rx="3.0" ry="1.8" fill="#8cc878" transform="rotate(-20 584.0 986.0)"/>
<ellipse cx="591.0" cy="987.0" rx="3.0" ry="1.8" fill="#7fc06e" transform="rotate(-70 591.0 987.0)"/>
<ellipse cx="599.0" cy="988.0" rx="3.0" ry="1.8" fill="#86c473" transform="rotate(40 599.0 988.0)"/>
<ellipse cx="605.0" cy="984.0" rx="2.6" ry="1.6" fill="#93cc7e" transform="rotate(10 605.0 984.0)"/>
<ellipse cx="579.5" cy="989.0" rx="2.8" ry="1.6" fill="#93cc7e" transform="rotate(15 579.5 989.0)"/>
<ellipse cx="567.0" cy="991.0" rx="5.0" ry="2.2" fill="#b5d88a" transform="rotate(-5 567.0 991.0)"/>
<ellipse cx="575.0" cy="987.4" rx="3.4" ry="2.4" fill="#a9d383" transform="rotate(25 575.0 987.4)"/>
<ellipse cx="572.0" cy="1002.2" rx="4.0" ry="2.2" fill="#a6d17f" transform="rotate(-8 572.0 1002.2)"/>
<ellipse cx="576.0" cy="995.6" rx="3.2" ry="2.2" fill="#b9db95" transform="rotate(10 576.0 995.6)"/>
<ellipse cx="608.2" cy="985.4" rx="3.2" ry="3.4" fill="#a9d383" transform="rotate(20 608.2 985.4)"/>
<ellipse cx="615.0" cy="994.6" rx="5.0" ry="2.1" fill="#a6d17f" transform="rotate(-38 615.0 994.6)"/>
<ellipse cx="606.6" cy="1003.0" rx="3.2" ry="2.6" fill="#b5d88a" transform="rotate(-20 606.6 1003.0)"/>
<ellipse cx="603.2" cy="1018.0" rx="3.0" ry="3.0" fill="#b5d88a" transform="rotate(0 603.2 1018.0)"/>
<ellipse cx="587.4" cy="1014.0" rx="3.2" ry="2.4" fill="#b5d88a" transform="rotate(0 587.4 1014.0)"/>
<ellipse cx="597.0" cy="979.0" rx="3.0" ry="2.0" fill="#8fc77a" transform="rotate(-30 597.0 979.0)"/>
<ellipse cx="592.6" cy="1001.8" rx="2.8" ry="2.8" fill="#cfe6c0" transform="rotate(0 592.6 1001.8)"/>
<circle cx="563.4" cy="991.4" r="1.7" fill="#f2f8ee"/>
<circle cx="573.2" cy="996.4" r="1.9" fill="#f2f8ee"/>
<circle cx="569.0" cy="1003.4" r="1.6" fill="#f2f8ee"/>
<circle cx="571.0" cy="986.0" r="1.5" fill="#f2f8ee"/>
<circle cx="593.0" cy="1001.8" r="2.0" fill="#f2f8ee"/>
<circle cx="592.0" cy="1000.0" r="1.3" fill="#f2f8ee"/>
<circle cx="606.0" cy="1001.6" r="1.7" fill="#f2f8ee"/>
<circle cx="609.5" cy="984.2" r="1.6" fill="#f2f8ee"/>
<circle cx="603.6" cy="1019.4" r="1.9" fill="#f2f8ee"/>
<circle cx="601.8" cy="1021.8" r="1.2" fill="#f2f8ee"/>
<circle cx="586.0" cy="1013.6" r="2.0" fill="#f2f8ee"/>
<circle cx="598.6" cy="977.2" r="1.6" fill="#f2f8ee"/>
<circle cx="619.0" cy="991.6" r="1.0" fill="#f2f8ee"/>
<circle cx="584.6" cy="1011.8" r="1.2" fill="#f2f8ee"/>
</svg>
</body></html>
